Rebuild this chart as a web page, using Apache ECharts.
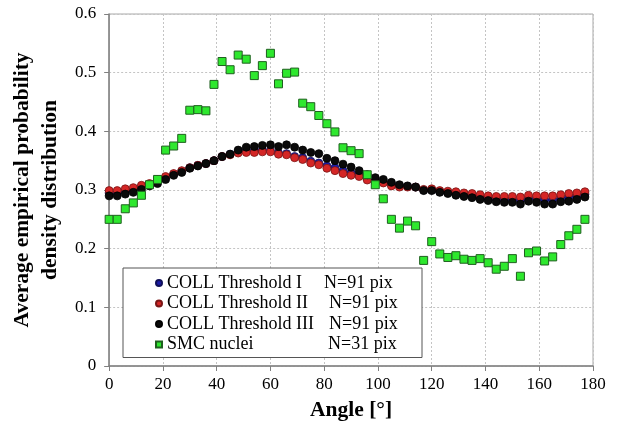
<!DOCTYPE html>
<html>
<head>
<meta charset="utf-8">
<script src="https://cdn.jsdelivr.net/npm/echarts@6/dist/echarts.min.js"></script>
<style>html,body{margin:0;padding:0;background:#fff;}#c{width:621px;height:427px;}</style>
</head>
<body>
<div id="c"></div>
<script>
const angles = [0,3,6,9,12,15,18,21,24,27,30,33,36,39,42,45,48,51,54,57,60,63,66,69,72,75,78,81,84,87,90,93,96,99,102,105,108,111,114,117,120,123,126,129,132,135,138,141,144,147,150,153,156,159,162,165,168,171,174,177];
const xTicks = [0,20,40,60,80,100,120,140,160,180];
const yTicks = [0,0.1,0.2,0.3,0.4,0.5,0.6];

const threshI = [0.295,0.295,0.298,0.300,0.305,0.309,0.314,0.321,0.327,0.332,0.338,0.342,0.345,0.350,0.357,0.361,0.365,0.367,0.367,0.368,0.367,0.363,0.362,0.357,0.355,0.349,0.346,0.341,0.338,0.333,0.329,0.326,0.320,0.316,0.314,0.310,0.307,0.306,0.305,0.300,0.300,0.297,0.296,0.294,0.292,0.291,0.288,0.286,0.285,0.284,0.284,0.282,0.286,0.285,0.283,0.283,0.286,0.288,0.290,0.293];
const threshII = [0.299,0.299,0.302,0.304,0.308,0.311,0.317,0.323,0.328,0.333,0.338,0.342,0.345,0.350,0.357,0.360,0.363,0.364,0.364,0.365,0.365,0.361,0.360,0.355,0.352,0.346,0.343,0.337,0.333,0.328,0.325,0.323,0.317,0.313,0.312,0.307,0.305,0.305,0.305,0.301,0.302,0.299,0.298,0.297,0.295,0.294,0.292,0.290,0.289,0.289,0.289,0.288,0.291,0.290,0.290,0.290,0.292,0.294,0.295,0.297];
const threshIII = [0.290,0.290,0.293,0.296,0.301,0.307,0.311,0.318,0.325,0.330,0.337,0.341,0.345,0.350,0.357,0.361,0.368,0.373,0.374,0.376,0.377,0.374,0.377,0.373,0.368,0.364,0.362,0.354,0.350,0.344,0.339,0.333,0.326,0.321,0.318,0.313,0.309,0.307,0.305,0.299,0.299,0.296,0.294,0.291,0.289,0.287,0.284,0.282,0.280,0.279,0.279,0.276,0.281,0.279,0.276,0.276,0.280,0.281,0.284,0.288];
const smc = [0.250,0.250,0.268,0.278,0.291,0.309,0.318,0.368,0.375,0.388,0.436,0.437,0.435,0.480,0.519,0.505,0.530,0.523,0.495,0.512,0.533,0.481,0.499,0.501,0.448,0.442,0.427,0.413,0.399,0.372,0.367,0.362,0.326,0.309,0.285,0.250,0.235,0.247,0.239,0.180,0.212,0.191,0.185,0.188,0.182,0.180,0.183,0.176,0.165,0.170,0.183,0.153,0.193,0.196,0.179,0.186,0.207,0.222,0.233,0.250];

const names = ['COLL Threshold I','COLL Threshold II','COLL Threshold III','SMC nuclei'];
const counts = ['N=91 pix','N=91 pix','N=91 pix','N=31 pix'];

const serif = 'Liberation Serif';
const pair = (vals) => angles.map((a,i)=>[a, vals[i]]);

const chart = echarts.init(document.getElementById('c'), null, {renderer:'canvas'});
const nameKeys = {};
names.forEach((n,i)=>{ nameKeys[n] = 'a'+i; });

chart.setOption({
  animation:false,
  backgroundColor:'#fff',
  grid:{left:109,right:28,top:14,bottom:61,show:true,borderColor:'#a8a8a8',borderWidth:1,backgroundColor:'transparent'},
  xAxis:{
    type:'value',min:xTicks[0],max:xTicks[xTicks.length-1],interval:20,
    name:'Angle [°]',nameLocation:'middle',nameGap:33,
    nameTextStyle:{fontFamily:serif,fontWeight:'bold',fontSize:21.5,color:'#000'},
    axisLine:{show:true,lineStyle:{color:'#808080',width:1.5}},
    axisTick:{show:true,length:5,lineStyle:{color:'#808080'}},
    axisLabel:{fontFamily:serif,fontSize:17,color:'#000',margin:10},
    splitLine:{show:true,lineStyle:{color:'#c4c4c4',type:[2,2],width:1}}
  },
  yAxis:{
    type:'value',min:yTicks[0],max:yTicks[yTicks.length-1],interval:0.1,
    name:'Average empirical probability\ndensity distribution',nameLocation:'middle',nameGap:35,nameRotate:90,
    nameTextStyle:{fontFamily:serif,fontWeight:'bold',fontSize:21.5,color:'#000',lineHeight:28,align:'center'},
    axisLine:{show:true,lineStyle:{color:'#808080',width:1.5}},
    axisTick:{show:true,length:5,lineStyle:{color:'#808080'}},
    axisLabel:{fontFamily:serif,fontSize:17,color:'#000',margin:13,formatter:(v)=>String(Math.round(v*10)/10)},
    splitLine:{show:true,lineStyle:{color:'#c4c4c4',type:[2,2],width:1}}
  },
  legend:{
    orient:'vertical',left:123,top:268,
    padding:[6,21,4,32],itemGap:2.5,itemWidth:6,itemHeight:6,
    backgroundColor:'#fff',borderColor:'#555',borderWidth:1,
    data:names,
    formatter:(n)=>'{'+nameKeys[n]+'|'+n+'}{b|'+counts[names.indexOf(n)]+'}',
    textStyle:{fontFamily:serif,fontSize:18,color:'#000',
      rich:{
        a0:{width:157,fontFamily:serif,fontSize:18,lineHeight:18},
        a1:{width:162,fontFamily:serif,fontSize:18,lineHeight:18},
        a2:{width:162,fontFamily:serif,fontSize:18,lineHeight:18},
        a3:{width:161,fontFamily:serif,fontSize:18,lineHeight:18},
        b:{width:72,fontFamily:serif,fontSize:18,lineHeight:18}
      }}
  },
  series:[
    {name:names[0],type:'scatter',data:pair(threshI),symbol:'circle',symbolSize:8,
      itemStyle:{color:'#1c1ca8',borderColor:'#10105a',borderWidth:0.8,opacity:1}},
    {name:names[1],type:'scatter',data:pair(threshII),symbol:'circle',symbolSize:8,
      itemStyle:{color:'#d42626',borderColor:'#7a1515',borderWidth:0.8,opacity:1}},
    {name:names[2],type:'scatter',data:pair(threshIII),symbol:'circle',symbolSize:8,
      itemStyle:{color:'#0a0a0a',borderColor:'#000',borderWidth:0.8,opacity:1}},
    {name:names[3],type:'scatter',data:pair(smc),symbol:'rect',symbolSize:8,
      itemStyle:{color:'#2ee82e',borderColor:'#1f5f1f',borderWidth:1,opacity:1}}
  ]
});
</script>
</body>
</html>
